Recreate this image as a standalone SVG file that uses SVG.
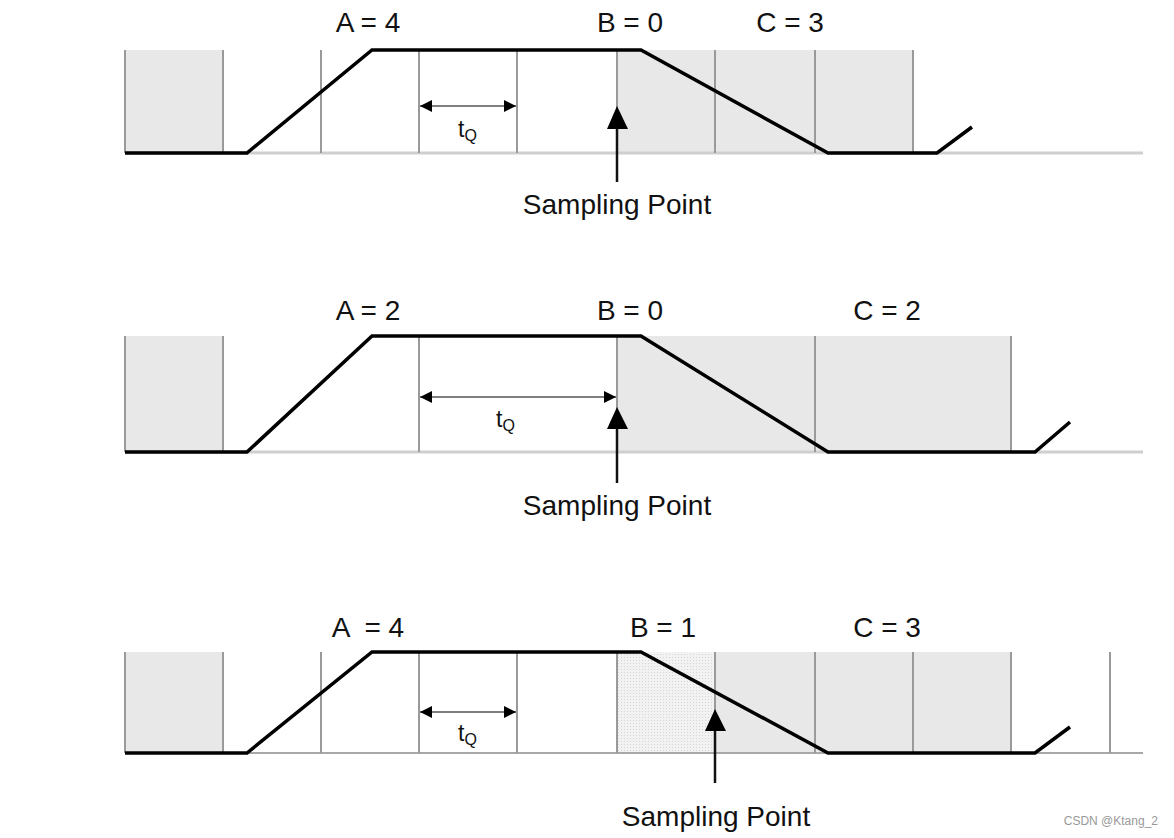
<svg xmlns="http://www.w3.org/2000/svg" width="1174" height="838" viewBox="0 0 1174 838">
<style>
.bg{fill:#ffffff}
.shade{fill:#e8e8e8}
.grid{stroke:#9a9a9a;stroke-width:2;fill:none}
.base{stroke:#cfcfcf;stroke-width:3;fill:none}
.sig{stroke:#000;stroke-width:3.5;fill:none;stroke-linejoin:miter}
.dim{stroke:#555;stroke-width:1.5;fill:none;marker-start:url(#tqL);marker-end:url(#tqR)}
.samp{stroke:#111;stroke-width:2.5;fill:none}
.head{fill:#000}
.lbl{font-family:"Liberation Sans",Arial,sans-serif;font-size:28px;fill:#111;text-anchor:middle}
.tq{font-family:"Liberation Sans",Arial,sans-serif;font-size:23px;fill:#111}
.tqs{font-size:16px}
.wm{font-family:"Liberation Sans",Arial,sans-serif;font-size:12px;fill:#999;text-anchor:end}
</style>
<defs>
<marker id="tqR" markerUnits="userSpaceOnUse" markerWidth="14" markerHeight="14" refX="12" refY="7" orient="auto"><path d="M0,1 L12,7 L0,13 Z" fill="#000"/></marker>
<marker id="tqL" markerUnits="userSpaceOnUse" markerWidth="14" markerHeight="14" refX="0" refY="7" orient="auto"><path d="M12,1 L0,7 L12,13 Z" fill="#000"/></marker>
<pattern id="stip" width="3" height="3" patternUnits="userSpaceOnUse"><rect width="3" height="3" fill="#f2f2f2"/><rect width="1" height="1" fill="#d6d6d6"/></pattern>
</defs>
<rect class="bg" width="1174" height="838"/>

<g id="panel-top">
<rect class="shade" x="125" y="50" width="98" height="103"/>
<rect class="shade" x="617" y="50" width="296" height="103"/>
<path class="base" d="M125,153 H1143"/>
<path class="grid" d="M125,50 V153 M223,50 V153 M321,50 V153 M419,50 V153 M517,50 V153 M617,50 V153 M715,50 V153 M815,50 V153 M913,50 V153"/>
<path class="sig" d="M125,153 H247 L372,50 H641 L828,153 H937 L972,127"/>
<text class="lbl" x="368" y="32">A = 4</text>
<text class="lbl" x="630" y="32">B = 0</text>
<text class="lbl" x="790" y="32">C = 3</text>
<text class="tq" x="458" y="137">t<tspan class="tqs" dy="4">Q</tspan></text>
<text class="lbl" x="617" y="214">Sampling Point</text>
</g>

<g id="panel-middle">
<rect class="shade" x="125" y="336" width="98" height="116"/>
<rect class="shade" x="617" y="336" width="394" height="116"/>
<path class="base" d="M125,452 H1143"/>
<path class="grid" d="M125,336 V452 M223,336 V452 M419,336 V452 M617,336 V452 M815,336 V452 M1011,336 V452"/>
<path class="sig" d="M125,452 H247 L372,336 H641 L828,452 H1035 L1070,422"/>
<text class="lbl" x="368" y="320">A = 2</text>
<text class="lbl" x="630" y="320">B = 0</text>
<text class="lbl" x="887" y="320">C = 2</text>
<text class="tq" x="496" y="427">t<tspan class="tqs" dy="4">Q</tspan></text>
<text class="lbl" x="617" y="515">Sampling Point</text>
</g>

<g id="panel-bottom">
<rect class="shade" x="125" y="652" width="98" height="101"/>
<rect x="617" y="652" width="98" height="101" fill="url(#stip)"/>
<rect class="shade" x="715" y="652" width="296" height="101"/>
<path class="base" d="M125,753 H1143" style="stroke:#a8a8a8;stroke-width:2"/>
<path class="grid" d="M125,652 V753 M223,652 V753 M321,652 V753 M419,652 V753 M517,652 V753 M617,652 V753 M715,652 V753 M815,652 V753 M913,652 V753 M1011,652 V753 M1110,652 V753"/>
<path class="sig" d="M125,753 H247 L372,652 H641 L828,753 H1035 L1070,727"/>
<text class="lbl" x="368" y="637" xml:space="preserve">A  = 4</text>
<text class="lbl" x="663" y="637">B = 1</text>
<text class="lbl" x="887" y="637">C = 3</text>
<text class="tq" x="458" y="741">t<tspan class="tqs" dy="4">Q</tspan></text>
<text class="lbl" x="716" y="826">Sampling Point</text>
</g>

<g id="connectors">
<path class="dim" d="M420,106 H516"/>
<path class="dim" d="M420,397 H616"/>
<path class="dim" d="M420,712 H516"/>
<path class="samp" d="M617,182 V126"/>
<path class="head" d="M607,129 L617,106 L628,129 Z"/>
<path class="samp" d="M617,483 V426"/>
<path class="head" d="M607,429 L617,407 L628,429 Z"/>
<path class="samp" d="M715,783 V728"/>
<path class="head" d="M705,731 L715,709 L726,731 Z"/>
</g>

<text class="wm" x="1158" y="825">CSDN @Ktang_2</text>
</svg>
